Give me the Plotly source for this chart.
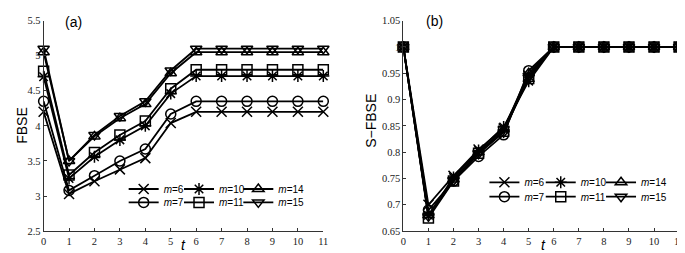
import plotly.graph_objects as go

t = list(range(12))
labels = ["m=6", "m=7", "m=10", "m=11", "m=14", "m=15"]
symbols = ["x-thin-open", "circle-open", "asterisk-open", "square-open", "triangle-up-open", "triangle-down-open"]

fbse_m6 = [4.20, 3.03, 3.21, 3.38, 3.54, 4.04, 4.20, 4.20, 4.20, 4.20, 4.20, 4.20]
fbse_m7 = [4.35, 3.08, 3.29, 3.50, 3.67, 4.17, 4.35, 4.35, 4.35, 4.35, 4.35, 4.35]
fbse_m10 = [4.70, 3.25, 3.56, 3.80, 4.00, 4.46, 4.71, 4.71, 4.71, 4.71, 4.71, 4.71]
fbse_m11 = [4.78, 3.30, 3.62, 3.87, 4.07, 4.53, 4.80, 4.80, 4.80, 4.80, 4.80, 4.80]
fbse_m14 = [5.05, 3.50, 3.85, 4.11, 4.31, 4.75, 5.05, 5.05, 5.05, 5.05, 5.05, 5.05]
fbse_m15 = [5.10, 3.50, 3.87, 4.14, 4.35, 4.79, 5.10, 5.10, 5.10, 5.10, 5.10, 5.10]

sfbse_m6 = [1.0, 0.700, 0.755, 0.805, 0.845, 0.945, 1.0, 1.0, 1.0, 1.0, 1.0, 1.0]
sfbse_m7 = [1.0, 0.690, 0.745, 0.792, 0.833, 0.955, 1.0, 1.0, 1.0, 1.0, 1.0, 1.0]
sfbse_m10 = [1.0, 0.680, 0.752, 0.803, 0.848, 0.935, 1.0, 1.0, 1.0, 1.0, 1.0, 1.0]
sfbse_m11 = [1.0, 0.675, 0.745, 0.798, 0.840, 0.940, 1.0, 1.0, 1.0, 1.0, 1.0, 1.0]
sfbse_m14 = [1.0, 0.680, 0.748, 0.800, 0.843, 0.950, 1.0, 1.0, 1.0, 1.0, 1.0, 1.0]
sfbse_m15 = [1.0, 0.678, 0.746, 0.797, 0.838, 0.945, 1.0, 1.0, 1.0, 1.0, 1.0, 1.0]

fbse = [fbse_m6, fbse_m7, fbse_m10, fbse_m11, fbse_m14, fbse_m15]
sfbse = [sfbse_m6, sfbse_m7, sfbse_m10, sfbse_m11, sfbse_m14, sfbse_m15]

W, H = 685, 253
fig = go.Figure()

# legend layout: column (marker x px) and row (y px) per panel
left_cols = [134, 190, 250]
left_rows = [184, 198]
right_cols = [499, 556, 617]
right_rows = [177, 192]

legend_layouts = {}
lid = 0
for panel, (series, cols, rows) in enumerate([(fbse, left_cols, left_rows), (sfbse, right_cols, right_rows)]):
    for i, (name, sym, ys) in enumerate(zip(labels, symbols, series)):
        lid += 1
        lname = "legend" if lid == 1 else f"legend{lid}"
        col = i // 2
        row = i % 2
        fig.add_trace(go.Scatter(
            x=t, y=ys, mode="lines+markers",
            name="<i>m</i>=" + name.split("=")[1],
            line=dict(color="black", width=1.8),
            marker=dict(symbol=sym, size=10, color="black", line=dict(width=1.5, color="black")),
            cliponaxis=False,
            xaxis="x" if panel == 0 else "x2",
            yaxis="y" if panel == 0 else "y2",
            legend=lname,
        ))
        legend_layouts[lname] = dict(
            x=(cols[col] - 20) / W, xanchor="left",
            y=1 - rows[row] / H, yanchor="middle",
            bgcolor="rgba(0,0,0,0)", borderwidth=0,
            font=dict(family="Liberation Sans", size=10, color="black"),
            itemwidth=30, tracegroupgap=0,
        )

axis_common = dict(
    showline=True, linecolor="#333", linewidth=1, mirror=False,
    ticks="inside", ticklen=3, tickcolor="#333",
    showgrid=False, zeroline=False,
    tickfont=dict(family="Liberation Serif", size=10.5, color="#222"),
)

fig.update_layout(
    width=W, height=H,
    margin=dict(l=0, r=0, t=0, b=0),
    paper_bgcolor="white", plot_bgcolor="white",
    showlegend=True,
    xaxis=dict(domain=[33 / W, 316 / W], range=[0, 11], tickvals=t, anchor="y", **axis_common),
    yaxis=dict(domain=[1 - 228 / H, 1 - 8 / H], range=[2.5, 5.5], dtick=0.5, anchor="x", **axis_common),
    xaxis2=dict(domain=[397 / W, 676 / W], range=[0, 11], tickvals=t, anchor="y2", **axis_common),
    yaxis2=dict(domain=[1 - 228 / H, 1 - 8 / H], range=[0.65, 1.05], dtick=0.05, anchor="x2", **axis_common),
    **legend_layouts,
)

ann_font = dict(family="Liberation Sans", color="#000000")
annotations = [
    dict(text="FBSE", x=11 / W, y=1 - 117 / H, textangle=-90, font=dict(size=14, **ann_font)),
    dict(text="S\u2212FBSE", x=364 / W, y=1 - 113 / H, textangle=-90, font=dict(size=14, **ann_font)),
    dict(text="<i>t</i>", x=175 / W, y=1 - 243 / H, font=dict(size=14, **ann_font)),
    dict(text="<i>t</i>", x=539 / W, y=1 - 243 / H, font=dict(size=14, **ann_font)),
    dict(text="(a)", x=63 / W, y=1 - 9 / H, font=dict(size=14, **ann_font)),
    dict(text="(b)", x=428 / W, y=1 - 8 / H, font=dict(size=14, **ann_font)),
]
for a in annotations:
    a.update(xref="paper", yref="paper", showarrow=False, xanchor="center", yanchor="middle")
fig.update_layout(annotations=annotations)

fig.write_html("out.html")
